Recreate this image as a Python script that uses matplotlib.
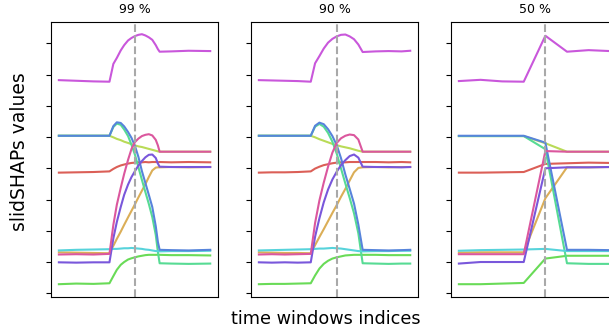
import numpy as np
import matplotlib
matplotlib.use("Agg")
import matplotlib.pyplot as plt
import seaborn as sns

# feature names only used for ordering / colours (hls palette, 10 features)
features = ["f0", "f1", "f2", "f3", "f4", "f5", "f6", "f7", "f8", "f9"]
overlaps = ["99 %", "90 %", "50 %"]
change_idx = [175, 18, 4]

# --- 99 % overlap (window indices sampled) ---
x99 = [0, 40, 80, 117, 126, 134, 143, 151, 160, 168, 176, 184, 192, 200, 208,
       216, 224, 229, 233, 260, 300, 350]
y99 = {
    "f0": [3.86, 3.87, 3.88, 3.90, 3.98, 4.04, 4.09, 4.12, 4.15, 4.17, 4.18, 4.19,
           4.19, 4.20, 4.19, 4.20, 4.20, 4.19, 4.20, 4.19, 4.20, 4.19],
    "f1": [1.31, 1.30, 1.29, 1.28, 1.52, 1.74, 1.97, 2.19, 2.43, 2.64, 2.85, 3.07,
           3.28, 3.49, 3.72, 3.93, 4.02, 4.03, 4.03, 4.04, 4.03, 4.04],
    "f2": [5.04, 5.04, 5.04, 5.04, 4.99, 4.94, 4.90, 4.85, 4.81, 4.77, 4.73, 4.70,
           4.68, 4.65, 4.62, 4.59, 4.56, 4.54, 4.53, 4.53, 4.53, 4.53],
    "f3": [0.29, 0.31, 0.30, 0.32, 0.55, 0.75, 0.91, 1.00, 1.08, 1.12, 1.15, 1.18,
           1.20, 1.22, 1.23, 1.23, 1.23, 1.23, 1.23, 1.22, 1.22, 1.21],
    "f4": [5.04, 5.04, 5.04, 5.04, 5.32, 5.43, 5.39, 5.24, 5.03, 4.75, 4.43, 4.03,
           3.63, 3.24, 2.86, 2.44, 1.87, 1.32, 0.96, 0.95, 0.94, 0.95],
    "f5": [1.37, 1.39, 1.40, 1.41, 1.42, 1.42, 1.43, 1.44, 1.44, 1.45, 1.44, 1.43,
           1.42, 1.40, 1.39, 1.37, 1.35, 1.35, 1.34, 1.35, 1.35, 1.36],
    "f6": [5.04, 5.04, 5.04, 5.04, 5.35, 5.47, 5.45, 5.34, 5.16, 4.97, 4.71, 4.36,
           3.91, 3.53, 3.15, 2.76, 2.15, 1.64, 1.39, 1.38, 1.37, 1.39],
    "f7": [0.99, 0.98, 0.99, 0.99, 1.76, 2.28, 2.76, 3.15, 3.48, 3.72, 3.91, 4.09,
           4.23, 4.35, 4.43, 4.44, 4.33, 4.15, 4.05, 4.04, 4.04, 4.04],
    "f8": [6.82, 6.80, 6.78, 6.77, 7.34, 7.53, 7.77, 7.94, 8.09, 8.17, 8.23, 8.27,
           8.29, 8.25, 8.19, 8.11, 7.94, 7.81, 7.73, 7.74, 7.76, 7.75],
    "f9": [1.24, 1.25, 1.24, 1.26, 2.19, 2.83, 3.37, 3.82, 4.27, 4.62, 4.84, 4.95,
           5.03, 5.07, 5.09, 5.05, 4.91, 4.73, 4.53, 4.53, 4.53, 4.53],
}

# --- 90 % overlap ---
x90 = [0, 3, 6, 9, 12, 13, 14, 15, 16, 17, 18, 19, 20, 21, 22, 23, 24, 27, 30, 33, 35]
y90 = {
    "f0": [3.86, 3.87, 3.87, 3.88, 3.90, 3.99, 4.05, 4.10, 4.13, 4.16, 4.18, 4.19,
           4.19, 4.20, 4.20, 4.20, 4.20, 4.20, 4.19, 4.20, 4.19],
    "f1": [1.31, 1.30, 1.29, 1.29, 1.28, 1.54, 1.80, 2.05, 2.31, 2.57, 2.82, 3.09,
           3.34, 3.61, 3.87, 4.01, 4.03, 4.04, 4.03, 4.04, 4.04],
    "f2": [5.04, 5.04, 5.04, 5.04, 5.04, 4.99, 4.93, 4.88, 4.83, 4.78, 4.74, 4.70,
           4.67, 4.64, 4.60, 4.56, 4.53, 4.53, 4.53, 4.53, 4.53],
    "f3": [0.29, 0.30, 0.30, 0.31, 0.32, 0.57, 0.79, 0.94, 1.04, 1.11, 1.15, 1.18,
           1.21, 1.22, 1.23, 1.23, 1.23, 1.23, 1.22, 1.22, 1.22],
    "f4": [5.04, 5.04, 5.04, 5.04, 5.04, 5.33, 5.42, 5.33, 5.13, 4.85, 4.47, 3.99,
           3.51, 3.05, 2.56, 1.92, 0.96, 0.95, 0.94, 0.95, 0.95],
    "f5": [1.37, 1.38, 1.39, 1.40, 1.41, 1.42, 1.43, 1.43, 1.44, 1.45, 1.44, 1.43,
           1.41, 1.39, 1.37, 1.35, 1.34, 1.35, 1.35, 1.36, 1.36],
    "f6": [5.04, 5.04, 5.04, 5.04, 5.04, 5.36, 5.46, 5.41, 5.25, 5.03, 4.74, 4.32,
           3.80, 3.34, 2.87, 2.20, 1.39, 1.38, 1.37, 1.38, 1.39],
    "f7": [0.99, 0.98, 0.99, 0.98, 0.99, 1.81, 2.40, 2.91, 3.32, 3.64, 3.89, 4.10,
           4.26, 4.39, 4.44, 4.34, 4.05, 4.04, 4.04, 4.03, 4.04],
    "f8": [6.82, 6.81, 6.80, 6.79, 6.77, 7.36, 7.59, 7.83, 8.02, 8.14, 8.22, 8.27,
           8.28, 8.22, 8.13, 7.96, 7.72, 7.74, 7.75, 7.74, 7.76],
    "f9": [1.24, 1.25, 1.24, 1.25, 1.26, 2.25, 2.97, 3.54, 4.05, 4.50, 4.81, 4.96,
           5.04, 5.08, 5.06, 4.92, 4.53, 4.53, 4.53, 4.53, 4.53],
}

# --- 50 % overlap ---
x50 = [0, 1, 2, 3, 4, 5, 6, 7]
y50 = {
    "f0": [3.86, 3.86, 3.87, 3.88, 4.14, 4.16, 4.18, 4.17],
    "f1": [1.30, 1.31, 1.31, 1.31, 3.04, 4.03, 4.03, 4.04],
    "f2": [5.03, 5.03, 5.03, 5.03, 4.80, 4.53, 4.53, 4.53],
    "f3": [0.29, 0.29, 0.31, 0.33, 1.11, 1.20, 1.20, 1.20],
    "f4": [5.03, 5.03, 5.03, 5.03, 4.61, 0.96, 0.94, 0.94],
    "f5": [1.36, 1.38, 1.39, 1.40, 1.42, 1.35, 1.35, 1.35],
    "f6": [5.04, 5.04, 5.04, 5.04, 4.82, 1.39, 1.39, 1.38],
    "f7": [0.95, 1.00, 1.00, 1.00, 4.00, 4.03, 4.03, 4.04],
    "f8": [6.79, 6.83, 6.78, 6.77, 8.24, 7.73, 7.78, 7.75],
    "f9": [1.25, 1.25, 1.25, 1.25, 4.55, 4.53, 4.53, 4.53],
}

panels = [(x99, y99), (x90, y90), (x50, y50)]
colors = sns.color_palette("hls", len(features))

W, H = 609, 333
fig = plt.figure(figsize=(W / 100, H / 100), dpi=100)

for i, (xs, ys) in enumerate(panels):
    left = 51.3 + 200 * i
    ax = fig.add_axes([left / W, 36.3 / H, 166.5 / W, 275 / H])
    for f, c in zip(features, colors):
        ax.plot(xs, ys[f], color=c, lw=1.5)
    ax.axvline(change_idx[i], color="darkgray", ls="--", lw=1.5)
    ax.set_ylim(-0.11, 8.69)
    ax.set_yticks(range(9))
    ax.set_yticklabels([])
    ax.set_xticks([])
    ax.set_title(overlaps[i], fontsize=9)

fig.text(20 / W, 1 - 151.7 / H, "slidSHAPs values", rotation=90,
         ha="center", va="center", fontsize=13.5)
fig.text(325.5 / W, 1 - 319 / H, "time windows indices",
         ha="center", va="center", fontsize=12.7)

fig.savefig("out.png", dpi=100)
